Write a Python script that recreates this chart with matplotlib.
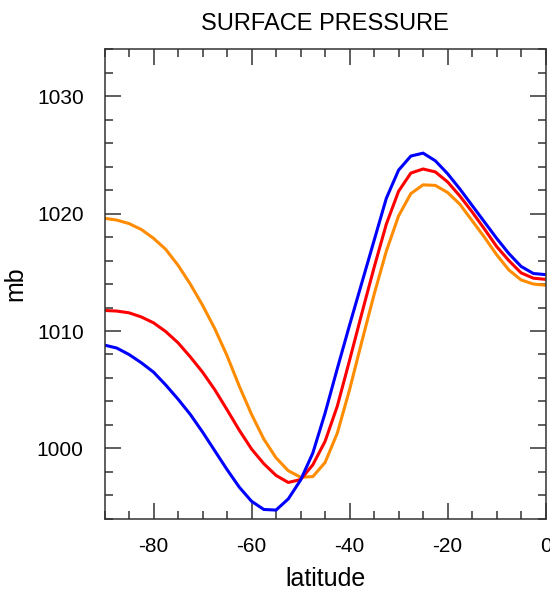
import numpy as np
import matplotlib
matplotlib.use("Agg")
import matplotlib.pyplot as plt
from matplotlib.ticker import MultipleLocator

plt.rcParams['font.family'] = ['Liberation Sans', 'DejaVu Sans']
plt.rcParams['axes.unicode_minus'] = False

# latitude grid (every 2.5 degrees)
lat = [-90, -87.5, -85, -82.5, -80, -77.5, -75, -72.5, -70, -67.5, -65, -62.5,
       -60, -57.5, -55, -52.5, -50, -47.5, -45, -42.5, -40, -37.5, -35, -32.5,
       -30, -27.5, -25, -22.5, -20, -17.5, -15, -12.5, -10, -7.5, -5, -2.5, 0]

# surface pressure (mb)
ps_blue = [1008.8, 1008.55, 1008.0, 1007.3, 1006.5, 1005.4, 1004.2, 1002.9, 1001.4,
           999.8, 998.2, 996.7, 995.5, 994.8, 994.75, 995.7, 997.3, 999.6, 1003.0,
           1006.8, 1010.5, 1014.1, 1017.7, 1021.3, 1023.7, 1024.9, 1025.15, 1024.5,
           1023.4, 1022.1, 1020.7, 1019.3, 1017.9, 1016.6, 1015.5, 1014.9, 1014.8]
ps_red = [1011.75, 1011.7, 1011.55, 1011.2, 1010.7, 1009.95, 1009.0, 1007.8, 1006.5,
          1005.0, 1003.3, 1001.55, 999.95, 998.7, 997.7, 997.1, 997.35, 998.6, 1000.6,
          1003.6, 1007.5, 1011.5, 1015.4, 1019.1, 1021.9, 1023.45, 1023.8, 1023.55,
          1022.7, 1021.5, 1020.15, 1018.7, 1017.2, 1016.0, 1014.95, 1014.5, 1014.4]
ps_orange = [1019.6, 1019.45, 1019.15, 1018.65, 1017.9, 1016.95, 1015.6, 1014.0, 1012.2,
             1010.2, 1007.9, 1005.3, 1002.9, 1000.8, 999.2, 998.1, 997.55, 997.6, 998.8,
             1001.3, 1005.0, 1009.1, 1013.1, 1016.8, 1019.8, 1021.7, 1022.45, 1022.4,
             1021.8, 1020.8, 1019.4, 1018.0, 1016.5, 1015.2, 1014.35, 1014.0, 1013.9]

fig = plt.figure(figsize=(5.5, 5.93), dpi=100)
ax = fig.add_axes([0.190, 0.125, 0.802, 0.792])

ax.plot(lat, ps_orange, color='#ff8c00', lw=2.2, solid_joinstyle='round')
ax.plot(lat, ps_red, color='#ff0000', lw=2.2, solid_joinstyle='round')
ax.plot(lat, ps_blue, color='#0000ff', lw=2.2, solid_joinstyle='round')

ax.set_xlim(-90, 0)
ax.set_ylim(994, 1034)
ax.set_xticks([-80, -60, -40, -20, 0])
ax.xaxis.set_minor_locator(MultipleLocator(5))
ax.set_yticks([1000, 1010, 1020, 1030])
ax.yaxis.set_minor_locator(MultipleLocator(2))

ax.tick_params(which='both', direction='in', top=True, right=True,
               width=1.1, color='#333333', labelsize=15)
ax.tick_params(which='major', length=11.5)
ax.tick_params(which='minor', length=6)
ax.tick_params(axis='x', which='major', pad=13)
ax.tick_params(axis='y', which='major', pad=15)
for s in ax.spines.values():
    s.set_linewidth(1.1)
    s.set_color('#333333')

ax.set_title('SURFACE PRESSURE', fontsize=17, pad=14)
ax.set_xlabel('latitude', fontsize=18, labelpad=8)
ax.set_ylabel('mb', fontsize=18, labelpad=7)

fig.savefig('out.png', dpi=100)
